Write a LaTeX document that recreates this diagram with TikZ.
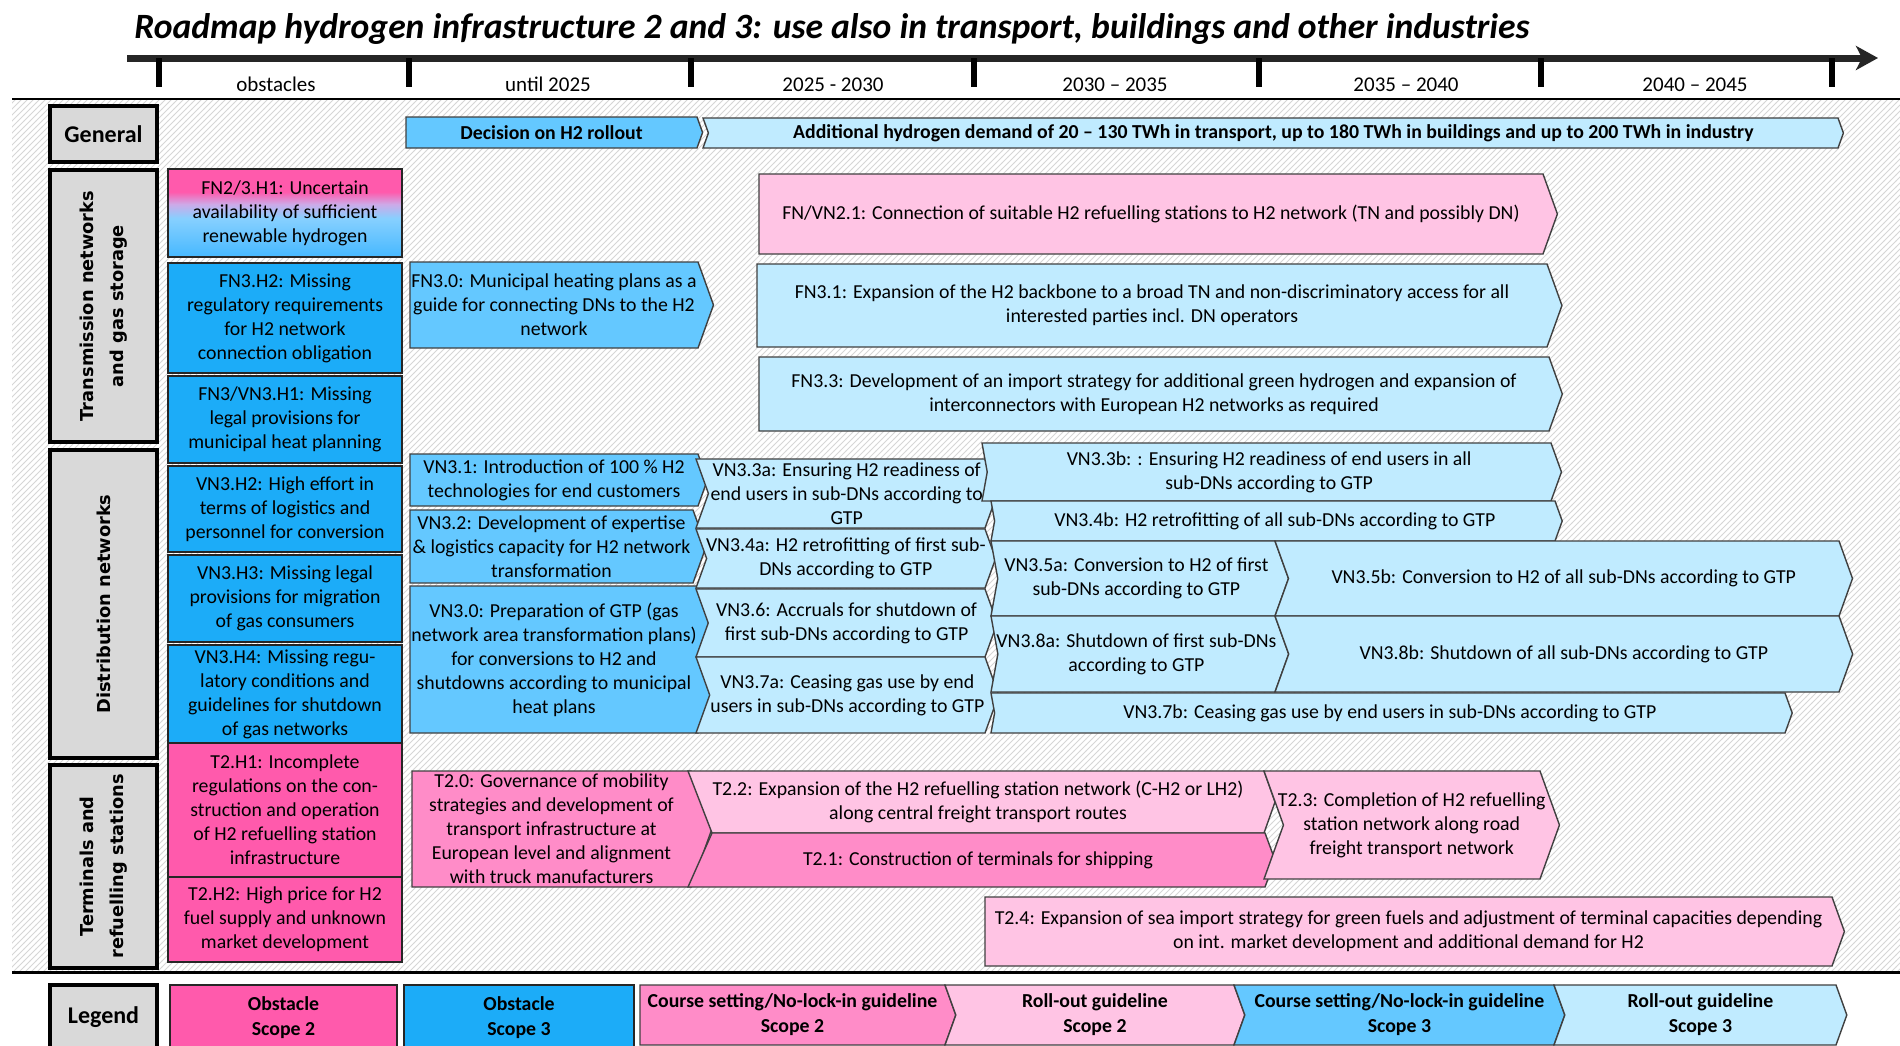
\documentclass[tikz,border=0pt]{standalone}
\usepackage{fontspec}
\setmainfont{Carlito}
\newfontfamily\rowfont{DejaVu Sans}
\usepackage{tikz}
\usetikzlibrary{shapes,arrows.meta,patterns}

\definecolor{obstwo}{RGB}{255,90,172}
\definecolor{obsthree}{RGB}{28,172,248}
\definecolor{cstwo}{RGB}{255,140,200}
\definecolor{rotwo}{RGB}{255,196,228}
\definecolor{csthree}{RGB}{100,200,255}
\definecolor{rothree}{RGB}{192,235,255}
\definecolor{headgray}{RGB}{217,217,217}
\definecolor{mixlow}{RGB}{70,184,255}
\definecolor{mixmid}{RGB}{135,208,255}
\definecolor{mixlav}{RGB}{205,170,232}
\pgfdeclareverticalshading{obsmix}{100bp}{color(0bp)=(mixlow); color(25bp)=(mixlow); color(47bp)=(mixmid); color(55bp)=(mixlav); color(62bp)=(obstwo); color(75bp)=(obstwo); color(100bp)=(obstwo)}

% chevron step: notch, box style, text style, name, left, top, right, bottom, text
\newcommand{\roadstep}[9]{%
  \pgfmathsetmacro{\rmtip}{0.18*(#8-#6)}%
  \pgfmathsetmacro{\rmmidy}{(#6+#8)/2}%
  \pgfmathsetmacro{\rmmidx}{(#5+#7)/2+#1*\rmtip/2}%
  \draw[#2] (#5,#6) -- (#7,#6) -- (#7+\rmtip,\rmmidy) -- (#7,#8) -- (#5,#8) -- (#5+#1*\rmtip,\rmmidy) -- cycle;
  \node[#3] (#4) at (\rmmidx,\rmmidy) {#9};
}
% plain box: box style, text style, name, left, top, right, bottom, text
\newcommand{\roadbox}[8]{%
  \draw[#1] (#4,#5) rectangle (#6,#7);
  \node[#2] (#3) at ({(#4+#6)/2},{(#5+#7)/2}) {#8};
}

\begin{document}
\begin{tikzpicture}[
    x=0.5pt, y=-0.5pt,
    stepbox/.style={draw=black!75, line width=0.7pt},
    steptext/.style={align=center, inner sep=0pt, font=\fontsize{9.9}{12}\selectfont},
    boldtext/.style={steptext, font=\bfseries\fontsize{9.9}{12.5}\selectfont},
    obsbox/.style={draw=black!85, line width=0.8pt},
    headbox/.style={draw=black, line width=1.8pt, fill=headgray},
    headtext/.style={align=center, inner sep=0pt, rotate=90, font=\rowfont\bfseries\fontsize{8.9}{15}\selectfont},
    headplain/.style={align=center, inner sep=0pt, font=\bfseries\fontsize{12}{14}\selectfont},
    timelabel/.style={anchor=base, inner sep=0pt, font=\fontsize{10.5}{12}\selectfont},
    timeline/.style={line width=3.5pt, black!85, -{Stealth[length=11pt, width=12pt, inset=3pt]}},
    tick/.style={line width=2.8pt, black}
  ]
  \useasboundingbox (0,0) rectangle (1900,1045);

  % Background
  \fill[white] (0,0) rectangle (1900,1045);
  \fill[pattern=north east lines, pattern color=black!16] (12,100) rectangle (1900,971);
  \draw[line width=1pt] (12,99) -- (1900,99);
  \draw[line width=1.5pt] (12,972) -- (1900,972);

  % Title and timeline
  \node[anchor=base west, inner sep=0pt, font=\bfseries\itshape\fontsize{17.8}{20}\selectfont] (title) at (134,38)
    {Roadmap hydrogen infrastructure 2 and 3: use also in transport, buildings and other industries};
  \coordinate (tlstart) at (127,58);
  \coordinate (tlend) at (1878,58);
  \draw[timeline] (tlstart) -- (tlend);
  \foreach \x in {159,409,691,974,1259,1541,1832}
    \draw[tick] (\x,58) -- (\x,87);
  \node[timelabel] (tobst) at (276,91) {obstacles};
  \node[timelabel] (t2025) at (548,91) {until 2025};
  \node[timelabel] (t2030) at (833,91) {2025 - 2030};
  \node[timelabel] (t2035) at (1115,91) {2030 -- 2035};
  \node[timelabel] (t2040) at (1406,91) {2035 -- 2040};
  \node[timelabel] (t2045) at (1695,91) {2040 -- 2045};

  % Row heads
  \roadbox{headbox}{headplain}{general}{50}{106}{157}{162}{General}
  \roadbox{headbox}{headtext}{trans}{50}{170}{157}{442}{Transmission networks\\and gas storage}
  \roadbox{headbox}{headtext}{distr}{50}{450}{157}{758}{Distribution networks}
  \roadbox{headbox}{headtext}{term}{50}{765}{157}{968}{Terminals and\\refuelling stations}
  \roadbox{headbox}{headplain}{legend}{50}{985}{157}{1050}{Legend}

  % Obstacles
  \roadbox{obsbox, shading=obsmix}{steptext}{fnhone}{168}{169}{402}{257}{FN2/3.H1: Uncertain\\availability of sufficient\\renewable hydrogen}
  \roadbox{obsbox, fill=obsthree}{steptext}{fnhtwo}{168}{263}{402}{373}{FN3.H2: Missing\\regulatory requirements\\for H2 network\\connection obligation}
  \roadbox{obsbox, fill=obsthree}{steptext}{fnhthree}{168}{376}{402}{463}{FN3/VN3.H1: Missing\\legal provisions for\\municipal heat planning}
  \roadbox{obsbox, fill=obsthree}{steptext}{vnhtwo}{168}{466}{402}{552}{VN3.H2: High effort in\\terms of logistics and\\personnel for conversion}
  \roadbox{obsbox, fill=obsthree}{steptext}{vnhthree}{168}{555}{402}{642}{VN3.H3: Missing legal\\provisions for migration\\of gas consumers}
  \roadbox{obsbox, fill=obsthree}{steptext}{vnhfour}{168}{645}{402}{743}{VN3.H4: Missing regu-\\latory conditions and\\guidelines for shutdown\\of gas networks}
  \roadbox{obsbox, fill=obstwo}{steptext}{thone}{168}{743}{402}{877}{T2.H1: Incomplete\\regulations on the con-\\struction and operation\\of H2 refuelling station\\infrastructure}
  \roadbox{obsbox, fill=obstwo}{steptext}{thtwo}{168}{877}{402}{962}{T2.H2: High price for H2\\fuel supply and unknown\\market development}

  % General row
  \roadstep{0}{stepbox, fill=csthree}{boldtext}{decision}{406}{117}{697}{148}{Decision on H2 rollout}
  \roadstep{1}{stepbox, fill=rothree}{boldtext}{demand}{703}{118}{1838}{148}{Additional hydrogen demand of 20 -- 130 TWh in transport, up to 180 TWh in buildings and up to 200 TWh in industry}

  % Transmission networks
  \roadstep{0}{stepbox, fill=rotwo}{steptext}{fnvntwoone}{759}{174}{1543}{254}{FN/VN2.1: Connection of suitable H2 refuelling stations to H2 network (TN and possibly DN)}
  \roadstep{0}{stepbox, fill=csthree}{steptext}{fnthreezero}{410}{262}{698}{348}{FN3.0: Municipal heating plans as a\\guide for connecting DNs to the H2\\network}
  \roadstep{0}{stepbox, fill=rothree}{steptext}{fnthreeone}{757}{264}{1547}{347}{FN3.1: Expansion of the H2 backbone to a broad TN and non-discriminatory access for all\\interested parties incl. DN operators}
  \roadstep{0}{stepbox, fill=rothree}{steptext}{fnthreethree}{759}{357}{1549}{431}{FN3.3: Development of an import strategy for additional green hydrogen and expansion of\\interconnectors with European H2 networks as required}

  % Distribution networks
  \roadstep{0}{stepbox, fill=csthree}{steptext}{vnone}{410}{454}{698}{506}{VN3.1: Introduction of 100 \% H2\\technologies for end customers}
  \roadstep{0}{stepbox, fill=csthree}{steptext}{vntwo}{410}{510}{693}{583}{VN3.2: Development of expertise\\\& logistics capacity for H2 network\\transformation}
  \roadstep{0}{stepbox, fill=csthree}{steptext}{vnzero}{410}{586}{698}{733}{VN3.0: Preparation of GTP (gas\\network area transformation plans)\\for conversions to H2 and\\shutdowns according to municipal\\heat plans}
  \roadstep{1}{stepbox, fill=rothree}{steptext}{vnthreea}{696}{459}{985}{528}{VN3.3a: Ensuring H2 readiness of\\end users in sub-DNs according to\\GTP}
  \roadstep{1}{stepbox, fill=rothree}{steptext}{vnfoura}{696}{529}{985}{588}{VN3.4a: H2 retrofitting of first sub-\\DNs according to GTP}
  \roadstep{1}{stepbox, fill=rothree}{steptext}{vnsix}{696}{589}{985}{657}{VN3.6: Accruals for shutdown of\\first sub-DNs according to GTP}
  \roadstep{1}{stepbox, fill=rothree}{steptext}{vnsevena}{696}{657}{985}{733}{VN3.7a: Ceasing gas use by end\\users in sub-DNs according to GTP}
  \roadstep{0.5}{stepbox, fill=rothree}{steptext}{vnthreeb}{982}{443}{1551}{501}{VN3.3b: : Ensuring H2 readiness of end users in all\\sub-DNs according to GTP}
  \roadstep{0.5}{stepbox, fill=rothree}{steptext}{vnfourb}{991}{501}{1555}{541}{VN3.4b: H2 retrofitting of all sub-DNs according to GTP}
  \roadstep{0.5}{stepbox, fill=rothree}{steptext}{vnfivea}{991}{541}{1275}{616}{VN3.5a: Conversion to H2 of first\\sub-DNs according to GTP}
  \roadstep{1}{stepbox, fill=rothree}{steptext}{vnfiveb}{1275}{541}{1839}{616}{VN3.5b: Conversion to H2 of all sub-DNs according to GTP}
  \roadstep{0.5}{stepbox, fill=rothree}{steptext}{vneighta}{991}{616}{1275}{692}{VN3.8a: Shutdown of first sub-DNs\\according to GTP}
  \roadstep{1}{stepbox, fill=rothree}{steptext}{vneightb}{1275}{616}{1839}{692}{VN3.8b: Shutdown of all sub-DNs according to GTP}
  \roadstep{0.5}{stepbox, fill=rothree}{steptext}{vnsevenb}{991}{693}{1785}{733}{VN3.7b: Ceasing gas use by end users in sub-DNs according to GTP}

  % Terminals and refuelling stations
  \roadstep{0}{stepbox, fill=cstwo}{steptext}{tzero}{412}{771}{691}{887}{T2.0: Governance of mobility\\strategies and development of\\transport infrastructure at\\European level and alignment\\with truck manufacturers}
  \draw[stepbox, fill=rotwo] (688,771) -- (1264,771) -- (1275,802) -- (1264,833) -- (712,833) -- cycle;
  \node[steptext] (ttwo) at (978,802) {T2.2: Expansion of the H2 refuelling station network (C-H2 or LH2)\\along central freight transport routes};
  \draw[stepbox, fill=cstwo] (712,833) -- (1265,833) -- (1275,860) -- (1265,887) -- (688,887) -- cycle;
  \node[steptext] (tone) at (978,860) {T2.1: Construction of terminals for shipping};
  \roadstep{1}{stepbox, fill=rotwo}{steptext}{tthree}{1264}{771}{1540}{879}{T2.3: Completion of H2 refuelling\\station network along road\\freight transport network}
  \roadstep{0}{stepbox, fill=rotwo}{steptext}{tfour}{985}{897}{1832}{966}{T2.4: Expansion of sea import strategy for green fuels and adjustment of terminal capacities depending\\on int. market development and additional demand for H2}

  % Legend
  \roadbox{obsbox, fill=obstwo}{boldtext}{legobstwo}{170}{985}{397}{1050}{Obstacle\\Scope 2}
  \roadbox{obsbox, fill=obsthree}{boldtext}{legobsthree}{404}{985}{634}{1050}{Obstacle\\Scope 3}
  \roadstep{0}{stepbox, fill=cstwo}{boldtext}{legcstwo}{640}{985}{945}{1045}{Course setting/No-lock-in guideline\\Scope 2}
  \roadstep{1}{stepbox, fill=rotwo}{boldtext}{legrotwo}{945}{985}{1234}{1045}{Roll-out guideline\\Scope 2}
  \roadstep{1}{stepbox, fill=csthree}{boldtext}{legcsthree}{1234}{985}{1554}{1045}{Course setting/No-lock-in guideline\\Scope 3}
  \roadstep{1}{stepbox, fill=rothree}{boldtext}{legrothree}{1554}{985}{1836}{1045}{Roll-out guideline\\Scope 3}
\end{tikzpicture}
\end{document}
